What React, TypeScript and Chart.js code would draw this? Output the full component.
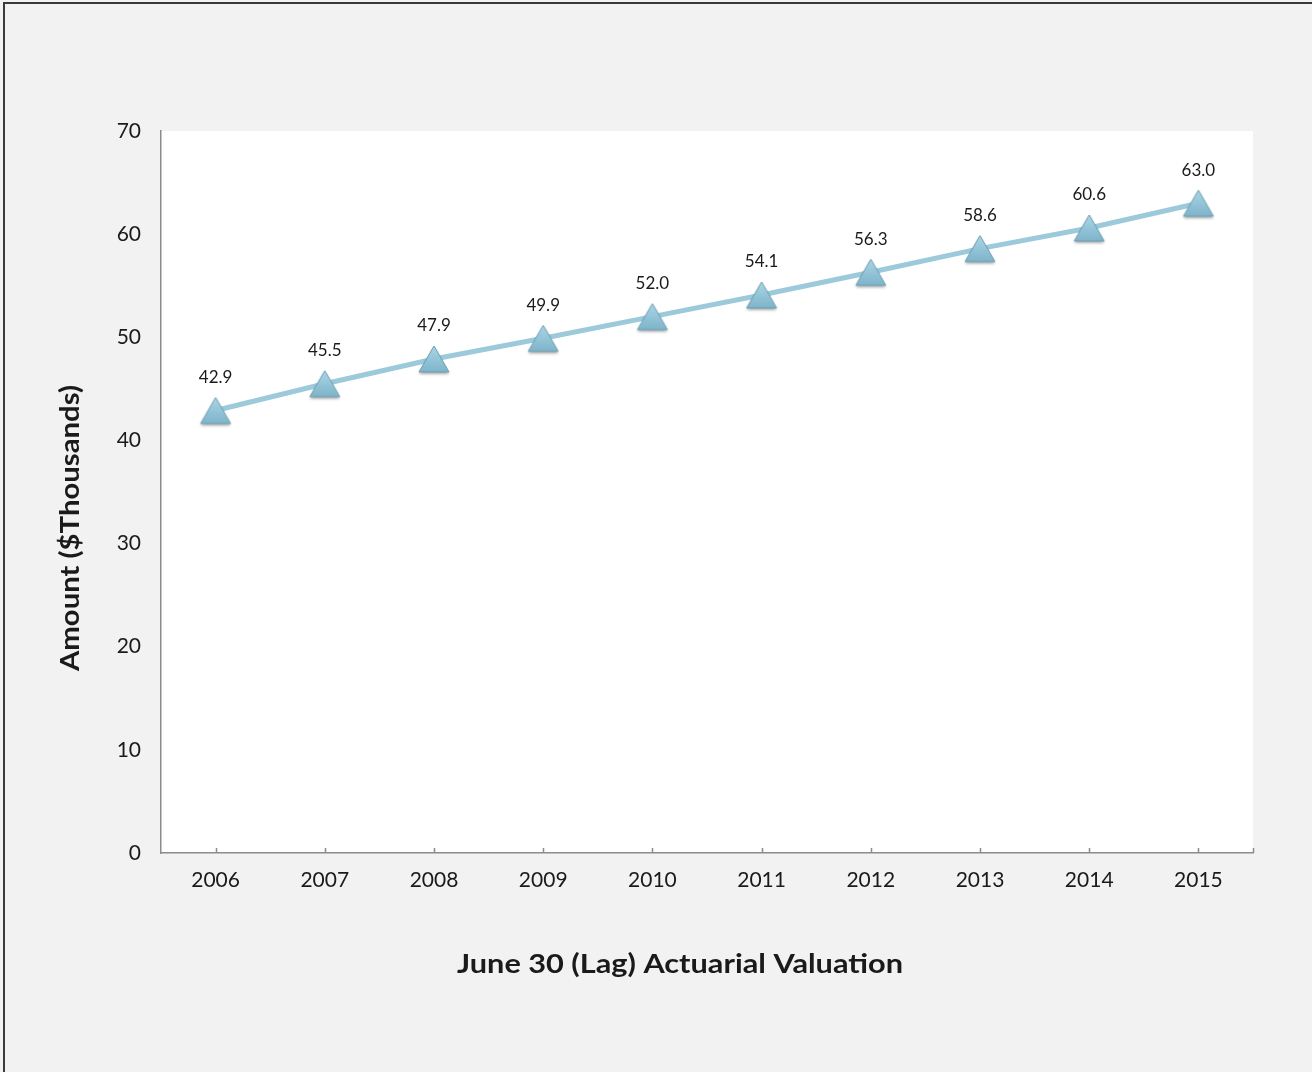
import { useEffect, useRef } from 'react';
import { Chart, registerables } from 'chart.js';

Chart.register(...registerables);

// Valuation years and average amount ($ thousands)
const years = ['2006', '2007', '2008', '2009', '2010', '2011', '2012', '2013', '2014', '2015'];
const amounts = [42.9, 45.5, 47.9, 49.9, 52.0, 54.1, 56.3, 58.6, 60.6, 63.0];
const yMin = 0;
const yMax = 70;
const yStep = 10;

const xTitle = 'June 30 (Lag) Actuarial Valuation';
const yTitle = 'Amount ($Thousands)';

const FONT = 'Lato, "DejaVu Sans", sans-serif';
const TEXT = '#1a1a1a';
const AXIS = '#8c8c8c';
const LINE = '#9ccada';

// Shaded triangle marker with a soft drop shadow
function makeTriangle(): HTMLCanvasElement {
  const c = document.createElement('canvas');
  c.width = 44;
  c.height = 44;
  const g = c.getContext('2d')!;
  g.save();
  g.shadowColor = 'rgba(0,0,0,0.35)';
  g.shadowBlur = 3;
  g.shadowOffsetY = 2;
  const grad = g.createLinearGradient(0, 9, 0, 35);
  grad.addColorStop(0, '#aad6e6');
  grad.addColorStop(1, '#7eb4ca');
  g.beginPath();
  g.moveTo(22, 9);
  g.lineTo(37, 35);
  g.lineTo(7, 35);
  g.closePath();
  g.fillStyle = grad;
  g.fill();
  g.restore();
  g.beginPath();
  g.moveTo(22, 9);
  g.lineTo(37, 35);
  g.lineTo(7, 35);
  g.closePath();
  g.strokeStyle = '#6d9fb4';
  g.lineWidth = 1;
  g.stroke();
  return c;
}

const backdrop = {
  id: 'backdrop',
  beforeDraw(chart: any) {
    const { ctx, chartArea, width, height } = chart;
    ctx.save();
    ctx.fillStyle = '#f2f2f2';
    ctx.fillRect(0, 0, width, height);
    ctx.fillStyle = '#ffffff';
    ctx.fillRect(chartArea.left, chartArea.top, chartArea.right - chartArea.left, chartArea.bottom - chartArea.top);
    ctx.strokeStyle = '#3a3a3a';
    ctx.lineWidth = 2;
    ctx.beginPath();
    ctx.moveTo(4, height);
    ctx.lineTo(4, 3);
    ctx.lineTo(width, 3);
    ctx.stroke();
    ctx.restore();
  },
};

// Short inward tick marks on the category axis
const innerTicks = {
  id: 'innerTicks',
  afterDraw(chart: any) {
    const { ctx, chartArea } = chart;
    const x = chart.scales.x;
    ctx.save();
    ctx.strokeStyle = AXIS;
    ctx.lineWidth = 1.5;
    ctx.beginPath();
    const xs: number[] = [];
    for (let i = 0; i < years.length; i++) xs.push(x.getPixelForTick(i));
    xs.push(chartArea.right);
    xs.forEach((px) => {
      const p = Math.round(px) + 0.5;
      ctx.moveTo(p, chartArea.bottom);
      ctx.lineTo(p, chartArea.bottom - 5);
    });
    ctx.stroke();
    ctx.restore();
  },
};

const valueLabels = {
  id: 'valueLabels',
  afterDatasetsDraw(chart: any) {
    const { ctx } = chart;
    const meta = chart.getDatasetMeta(0);
    ctx.save();
    ctx.fillStyle = TEXT;
    ctx.font = `17px ${FONT}`;
    ctx.textAlign = 'center';
    ctx.textBaseline = 'middle';
    meta.data.forEach((pt: any, i: number) => {
      ctx.fillText(amounts[i].toFixed(1), pt.x, pt.y - 33);
    });
    ctx.restore();
  },
};

// Draws a bold title widened to the given span (a wide geometric face is used in the design)
function wideText(ctx: CanvasRenderingContext2D, text: string, span: number) {
  const w = ctx.measureText(text).width;
  const k = span / w;
  ctx.save();
  ctx.scale(k, 1);
  ctx.fillText(text, 0, 0);
  ctx.restore();
}

const axisTitles = {
  id: 'axisTitles',
  afterDraw(chart: any) {
    const { ctx } = chart;
    ctx.save();
    ctx.fillStyle = TEXT;
    ctx.font = `bold 27px ${FONT}`;
    ctx.textAlign = 'center';
    ctx.textBaseline = 'middle';
    ctx.save();
    ctx.translate(680, 964);
    wideText(ctx, xTitle, 446);
    ctx.restore();
    ctx.translate(70, 528);
    ctx.rotate(-Math.PI / 2);
    wideText(ctx, yTitle, 286);
    ctx.restore();
  },
};

export default function App() {
  const ref = useRef<HTMLCanvasElement>(null);

  useEffect(() => {
    const chart = new Chart(ref.current!, {
      type: 'line',
      data: {
        labels: years,
        datasets: [
          {
            data: amounts,
            borderColor: LINE,
            borderWidth: 5,
            tension: 0,
            pointStyle: makeTriangle(),
            pointRadius: 16,
            pointHoverRadius: 16,
          },
        ],
      },
      options: {
        responsive: false,
        animation: false,
        events: [],
        layout: { padding: { left: 0, top: 131, right: 59, bottom: 119 } },
        plugins: {
          legend: { display: false },
          tooltip: { enabled: false },
        },
        scales: {
          x: {
            offset: true,
            grid: { display: false, drawTicks: false },
            border: { display: true, color: AXIS, width: 1.5 },
            ticks: { color: TEXT, font: { family: FONT, size: 21 }, padding: 15, maxRotation: 0 },
            afterFit: (s: any) => {
              s.height = 100;
            },
          },
          y: {
            min: yMin,
            max: yMax,
            grid: { display: false, drawTicks: false },
            border: { display: true, color: AXIS, width: 1.5 },
            ticks: { stepSize: yStep, color: TEXT, font: { family: FONT, size: 21 }, padding: 20 },
            afterFit: (s: any) => {
              s.width = 161;
            },
          },
        },
      },
      plugins: [backdrop, innerTicks, valueLabels, axisTitles],
    });
    return () => chart.destroy();
  }, []);

  return (
    <div style={{ position: 'fixed', left: 0, top: 0, width: 1312, height: 1072 }}>
      <canvas ref={ref} width={1312} height={1072} style={{ width: 1312, height: 1072, display: 'block' }} />
    </div>
  );
}
